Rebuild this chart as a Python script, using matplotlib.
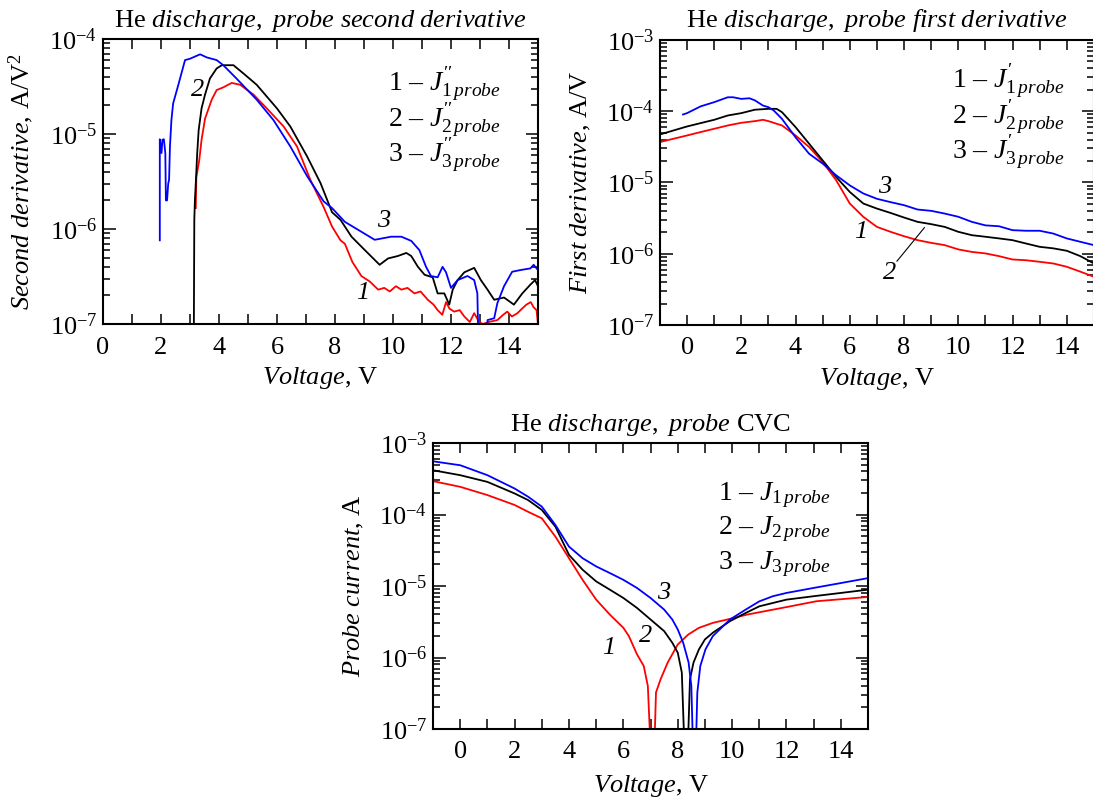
import matplotlib
matplotlib.use("Agg")
import matplotlib.pyplot as plt
from matplotlib.ticker import MultipleLocator, LogLocator, NullFormatter

# --- fuentes ---
plt.rcParams['font.family'] = ['Liberation Serif', 'DejaVu Serif']
plt.rcParams['mathtext.fontset'] = 'custom'
plt.rcParams['mathtext.rm'] = 'Liberation Serif'
plt.rcParams['mathtext.it'] = 'Liberation Serif:italic'
plt.rcParams['mathtext.bf'] = 'Liberation Serif:bold'
plt.rcParams['axes.linewidth'] = 1.5

# --- second derivative (top left) ---
v2_1 = [3.20, 3.22, 3.32, 3.40, 3.52, 3.75, 3.92, 4.15, 4.44, 4.73, 5.19, 5.65, 6.23, 6.69,
        7.15, 7.61, 7.90, 8.19, 8.34, 8.60, 8.91, 9.20, 9.49, 9.70, 9.89, 10.10, 10.29, 10.50,
        10.74, 10.95, 11.20, 11.40, 11.54, 11.70, 11.83, 11.95, 12.11, 12.30, 12.46, 12.65,
        12.80, 12.97, 13.10, 13.30, 13.60, 13.80, 13.94, 14.10, 14.29, 14.45, 14.60, 14.75,
        14.85, 14.95, 15.00]
d2_1 = [1.66e-6, 3.5e-6, 5.3e-6, 8.7e-6, 1.45e-5, 2.3e-5, 2.9e-5, 3.1e-5, 3.45e-5, 3.3e-5,
        2.6e-5, 1.86e-5, 1.2e-5, 7.4e-6, 3.3e-6, 1.7e-6, 1.06e-6, 7.6e-7, 7.0e-7, 4.5e-7,
        3.2e-7, 2.8e-7, 2.3e-7, 2.4e-7, 2.2e-7, 2.5e-7, 2.3e-7, 2.4e-7, 2.1e-7, 2.2e-7,
        1.8e-7, 1.6e-7, 1.4e-7, 1.25e-7, 1.7e-7, 1.45e-7, 1.35e-7, 1.4e-7, 1.2e-7, 1.05e-7,
        1.3e-7, 1.05e-7, 1.0e-7, 1.05e-7, 1.1e-7, 1.25e-7, 1.35e-7, 1.2e-7, 1.3e-7, 1.45e-7,
        1.6e-7, 1.7e-7, 1.5e-7, 1.4e-7, 1.0e-7]

v2_2 = [3.12, 3.15, 3.17, 3.20, 3.25, 3.30, 3.40, 3.52, 3.69, 3.92, 4.10, 4.50, 4.84, 5.30,
        6.00, 6.46, 7.04, 7.50, 7.90, 8.19, 8.57, 9.03, 9.54, 9.83, 10.17, 10.46, 10.63,
        10.86, 11.09, 11.37, 11.54, 11.77, 11.94, 12.06, 12.23, 12.46, 12.80, 13.03, 13.26,
        13.49, 13.83, 14.17, 14.46, 14.74, 14.90, 15.00]
d2_2 = [1e-8, 1.25e-6, 2.0e-6, 3.0e-6, 6.3e-6, 1.1e-5, 1.86e-5, 2.6e-5, 3.85e-5, 4.9e-5,
        5.3e-5, 5.3e-5, 4.35e-5, 3.3e-5, 1.86e-5, 1.2e-5, 5.8e-6, 3.05e-6, 1.5e-6, 1.25e-6,
        8.3e-7, 6.0e-7, 4.2e-7, 4.9e-7, 5.2e-7, 5.6e-7, 5.2e-7, 4.0e-7, 3.3e-7, 3.1e-7,
        2.1e-7, 2.1e-7, 1.6e-7, 2.3e-7, 2.9e-7, 3.5e-7, 3.9e-7, 2.9e-7, 2.3e-7, 1.8e-7,
        1.9e-7, 1.6e-7, 2.1e-7, 2.6e-7, 2.9e-7, 2.5e-7]

v2_3 = [1.96, 1.96, 2.02, 2.05, 2.10, 2.15, 2.17, 2.21, 2.25, 2.28, 2.31, 2.36, 2.42, 2.60,
        2.83, 3.00, 3.35, 3.58, 3.92, 4.15, 4.60, 5.30, 5.88, 6.46, 7.04, 7.61, 7.90, 8.34,
        8.80, 9.37, 9.94, 10.29, 10.63, 10.91, 11.14, 11.31, 11.54, 11.71, 11.83, 12.00,
        12.23, 12.57, 12.80, 12.91, 13.00, 13.20, 13.26, 13.49, 13.60, 13.83, 14.11, 14.40,
        14.74, 14.85, 15.00]
d2_3 = [7.6e-7, 8.8e-6, 6.3e-6, 8.7e-6, 8.8e-6, 6.3e-6, 2.0e-6, 2.0e-6, 3.0e-6, 3.3e-6,
        7.4e-6, 1.4e-5, 2.1e-5, 3.3e-5, 6.0e-5, 6.2e-5, 6.9e-5, 6.4e-5, 6.0e-5, 5.3e-5,
        3.85e-5, 2.3e-5, 1.4e-5, 7.4e-6, 3.6e-6, 1.95e-6, 1.66e-6, 1.19e-6, 9.8e-7, 7.7e-7,
        8.3e-7, 8.3e-7, 7.5e-7, 6.0e-7, 4.0e-7, 3.2e-7, 3.1e-7, 4.0e-7, 3.5e-7, 2.4e-7,
        2.9e-7, 3.2e-7, 2.9e-7, 2.1e-7, 1e-8, 1e-8, 1.1e-7, 1.15e-7, 1.66e-7, 2.5e-7,
        3.55e-7, 3.7e-7, 3.85e-7, 4.2e-7, 3.7e-7]

# --- first derivative (top right) ---
v1_1 = [-1, -0.5, 0, 0.5, 1, 1.5, 2, 2.5, 2.8, 3, 3.5, 4, 4.5, 5, 5.5, 6, 6.5, 7, 7.5, 8,
        8.5, 9, 9.5, 10, 10.5, 11, 11.5, 12, 12.5, 13, 13.5, 14, 14.5, 15]
d1_1 = [3.69e-5, 4.11e-5, 4.57e-5, 5.1e-5, 5.67e-5, 6.31e-5, 6.88e-5, 7.26e-5, 7.58e-5,
        7.26e-5, 6.31e-5, 4.57e-5, 3.14e-5, 1.94e-5, 1.07e-5, 5.06e-6, 3.29e-6, 2.38e-6,
        2.03e-6, 1.76e-6, 1.55e-6, 1.42e-6, 1.32e-6, 1.15e-6, 1.06e-6, 1.01e-6, 9.25e-7,
        8.3e-7, 8.1e-7, 7.7e-7, 7.3e-7, 6.56e-7, 5.6e-7, 4.75e-7]

v1_2 = [-1, -0.5, 0, 0.5, 1, 1.5, 2, 2.5, 3, 3.3, 3.5, 4, 4.5, 5, 5.5, 6, 6.5, 7, 7.5, 8,
        8.5, 9, 9.5, 10, 10.5, 11, 11.5, 12, 12.5, 13, 13.5, 14, 14.5, 15]
d1_2 = [4.72e-5, 5.37e-5, 6.11e-5, 6.81e-5, 7.58e-5, 8.71e-5, 9.4e-5, 1.05e-4, 1.08e-4,
        1.08e-4, 9.7e-5, 5.98e-5, 3.5e-5, 2.04e-5, 1.19e-5, 7.36e-6, 5.06e-6, 4.3e-6,
        3.74e-6, 3.22e-6, 2.8e-6, 2.6e-6, 2.38e-6, 2.03e-6, 1.82e-6, 1.73e-6, 1.64e-6,
        1.55e-6, 1.39e-6, 1.25e-6, 1.19e-6, 1.1e-6, 9.25e-7, 7.3e-7]

v1_3 = [-0.15, 0, 0.5, 1, 1.5, 1.7, 2, 2.3, 2.5, 2.8, 3, 3.2, 3.5, 4, 4.5, 5, 5.5, 6, 6.5,
        7, 7.5, 8, 8.5, 9, 9.5, 10, 10.5, 11, 11.5, 12, 12.5, 13, 13.5, 14, 14.5, 15]
d1_3 = [9.0e-5, 9.4e-5, 1.17e-4, 1.34e-4, 1.57e-4, 1.57e-4, 1.49e-4, 1.52e-4, 1.42e-4,
        1.2e-4, 1.14e-4, 1.02e-4, 7.8e-5, 4.3e-5, 2.53e-5, 1.84e-5, 1.26e-5, 9.1e-6, 7.0e-6,
        5.9e-6, 5.3e-6, 4.8e-6, 4.17e-6, 4.0e-6, 3.66e-6, 3.3e-6, 2.8e-6, 2.5e-6, 2.43e-6,
        2.14e-6, 2.1e-6, 2.1e-6, 1.92e-6, 1.64e-6, 1.47e-6, 1.32e-6]

# --- probe CVC (bottom) ---
vc_1 = [-1, 0, 1, 2, 2.5, 3, 3.5, 4, 4.5, 5, 5.5, 6, 6.2, 6.5, 6.75, 6.9, 7.03, 7.12,
        7.2, 7.37, 7.63, 8.0, 8.39, 8.78, 9.29, 9.92, 10.56, 11.84, 13.1, 15]
jc_1 = [2.93e-4, 2.44e-4, 1.87e-4, 1.36e-4, 1.09e-4, 8.85e-5, 4.91e-5, 2.45e-5, 1.22e-5,
        6.45e-6, 3.99e-6, 2.6e-6, 2.0e-6, 1.11e-6, 7.6e-7, 4.0e-7, 3e-8, 3e-8, 3.24e-7,
        4.97e-7, 8.5e-7, 1.52e-6, 2.1e-6, 2.6e-6, 3.05e-6, 3.47e-6, 3.99e-6, 4.94e-6,
        6.12e-6, 7.03e-6]

vc_2 = [-1, 0, 1, 2, 2.5, 3, 3.5, 4, 4.5, 5, 5.5, 6, 6.5, 7, 7.5, 7.8, 8.0, 8.15, 8.27,
        8.35, 8.45, 8.58, 8.78, 9.0, 9.29, 9.92, 10.5, 11, 12, 13, 14, 15]
jc_2 = [4.16e-4, 3.55e-4, 2.86e-4, 1.97e-4, 1.59e-4, 1.16e-4, 6.77e-5, 2.73e-5, 1.69e-5,
        1.16e-5, 8.9e-6, 6.8e-6, 4.94e-6, 3.4e-6, 2.34e-6, 1.61e-6, 1.17e-6, 6.15e-7, 3e-8,
        3e-8, 4.97e-7, 8.5e-7, 1.3e-6, 1.79e-6, 2.22e-6, 3.22e-6, 4.2e-6, 5.2e-6, 6.45e-6,
        7.2e-6, 8.0e-6, 8.9e-6]

vc_3 = [-1, 0, 1, 2, 2.5, 3, 3.5, 4, 4.5, 5, 5.5, 6, 6.5, 7, 7.5, 7.8, 8.0, 8.2, 8.4, 8.5,
        8.58, 8.65, 8.72, 8.83, 9.02, 9.29, 9.92, 10.5, 11, 11.5, 12, 13, 14, 15]
jc_3 = [5.55e-4, 4.89e-4, 3.55e-4, 2.31e-4, 1.77e-4, 1.29e-4, 7.14e-5, 3.56e-5, 2.45e-5,
        1.88e-5, 1.52e-5, 1.22e-5, 9.4e-6, 6.8e-6, 4.68e-6, 3.4e-6, 2.47e-6, 1.61e-6,
        8.5e-7, 4.0e-7, 3e-8, 3e-8, 3.24e-7, 7.6e-7, 1.3e-6, 1.99e-6, 3.4e-6, 4.68e-6,
        6.1e-6, 7.2e-6, 8.0e-6, 9.4e-6, 1.1e-5, 1.29e-5]

colors = ['red', 'black', 'blue']
FS = 19


def style_axes(ax, xlim, ylim):
    ax.set_yscale('log')
    ax.set_xlim(*xlim)
    ax.set_ylim(*ylim)
    ax.xaxis.set_major_locator(MultipleLocator(2))
    ax.xaxis.set_minor_locator(MultipleLocator(1))
    ax.yaxis.set_major_locator(LogLocator(base=10, numticks=10))
    ax.yaxis.set_minor_locator(LogLocator(base=10, subs=range(2, 10), numticks=10))
    ax.yaxis.set_minor_formatter(NullFormatter())
    ax.tick_params(which='both', direction='in', top=True, right=True,
                   labelsize=FS, width=1.1)
    ax.tick_params(axis='x', which='both', length=7, pad=9)
    ax.tick_params(axis='y', which='major', length=9, pad=4)
    ax.tick_params(axis='y', which='minor', length=5)


def legend_entry(ax, x, y, num, primes):
    # primes after the subscript, so mathtext stacks them above it
    s = r"$\mathit{%d}$ – $J_{%d\,\mathit{probe}}%s$" % (num, num, primes)
    ax.text(x, y, s, transform=ax.transAxes, ha='left', va='baseline', fontsize=FS + 1)


def curve_label(ax, x, y, s):
    ax.text(x, y, s, fontsize=FS, style='italic', ha='center', va='center')


fig = plt.figure(figsize=(10.93, 8.01), dpi=100)

# --- panel 1 ---
ax1 = fig.add_axes([0.0942, 0.5955, 0.398, 0.3558])
for v, d, c in zip([v2_1, v2_2, v2_3], [d2_1, d2_2, d2_3], colors):
    ax1.plot(v, d, color=c, lw=1.3)
style_axes(ax1, (0, 15), (1e-7, 1e-4))
ax1.set_title(r'He $\mathit{discharge,\ probe\ second\ derivative}$', fontsize=FS, pad=9)
ax1.set_xlabel(r'$\mathit{Voltage}$, V', fontsize=FS, labelpad=5)
ax1.set_ylabel(r'$\mathit{Second\ derivative}$, A/V$^2$', fontsize=FS, labelpad=10)
for n, y in zip([1, 2, 3], [0.82, 0.695, 0.57]):
    legend_entry(ax1, 0.655, y, n, "''")
curve_label(ax1, 3.27, 2.9e-5, '2')
curve_label(ax1, 9.67, 1.2e-6, '3')
curve_label(ax1, 8.95, 2.1e-7, '1')

# --- panel 2 ---
ax2 = fig.add_axes([0.6038, 0.5943, 0.397, 0.3558])
for v, d, c in zip([v1_1, v1_2, v1_3], [d1_1, d1_2, d1_3], colors):
    ax2.plot(v, d, color=c, lw=1.3)
style_axes(ax2, (-1, 15), (1e-7, 1e-3))
ax2.set_title(r'He $\mathit{discharge,\ probe\ first\ derivative}$', fontsize=FS, pad=9)
ax2.set_xlabel(r'$\mathit{Voltage}$, V', fontsize=FS, labelpad=5)
ax2.set_ylabel(r'$\mathit{First\ derivative}$, A/V', fontsize=FS, labelpad=10)
for n, y in zip([1, 2, 3], [0.835, 0.71, 0.585]):
    legend_entry(ax2, 0.674, y, n, "'")
curve_label(ax2, 7.29, 8.7e-6, '3')
curve_label(ax2, 6.39, 2.0e-6, '1')
curve_label(ax2, 7.48, 5.3e-7, '2')
ax2.annotate('', xy=(8.82, 2.5e-6), xytext=(7.67, 7.3e-7),
             arrowprops=dict(arrowstyle='-', color='black', lw=0.8))

# --- panel 3 ---
ax3 = fig.add_axes([0.3962, 0.0899, 0.398, 0.357])
for v, d, c in zip([vc_1, vc_2, vc_3], [jc_1, jc_2, jc_3], colors):
    ax3.plot(v, d, color=c, lw=1.3)
style_axes(ax3, (-1, 15), (1e-7, 1e-3))
ax3.set_title(r'He $\mathit{discharge,\ probe}$ CVC', fontsize=FS, pad=9)
ax3.set_xlabel(r'$\mathit{Voltage}$, V', fontsize=FS, labelpad=7)
ax3.set_ylabel(r'$\mathit{Probe\ current}$, A', fontsize=FS, labelpad=10)
for n, y in zip([1, 2, 3], [0.80, 0.68, 0.558]):
    legend_entry(ax3, 0.655, y, n, "")
curve_label(ax3, 7.5, 7.9e-6, '3')
curve_label(ax3, 6.8, 2.0e-6, '2')
curve_label(ax3, 5.46, 1.38e-6, '1')

fig.savefig('out.png', dpi=100)
